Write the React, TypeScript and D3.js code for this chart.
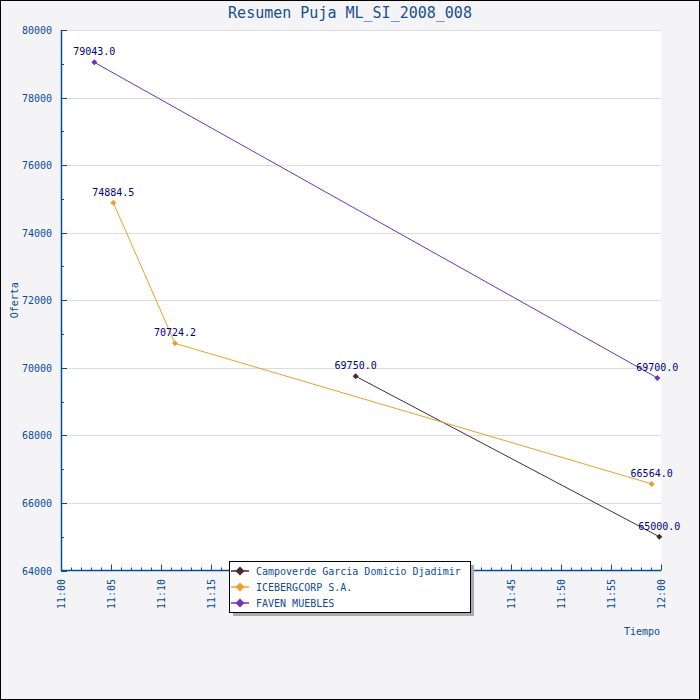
import * as d3 from 'd3';

const title = 'Resumen Puja ML_SI_2008_008';
const seriesNames = ['Campoverde Garcia Domicio Djadimir', 'ICEBERGCORP S.A.', 'FAVEN MUEBLES'];
const seriesColors = ['#4a2a32', '#e8a030', '#7034b4'];

const campoverdeTimes = ['11:29:28', '11:59:50'];
const campoverdeValues = [69750.0, 65000.0];
const icebergTimes = ['11:05:14', '11:11:24', '11:59:04'];
const icebergValues = [74884.5, 70724.2, 66564.0];
const favenTimes = ['11:03:20', '11:59:38'];
const favenValues = [79043.0, 69700.0];

const yTicks = [64000, 66000, 68000, 70000, 72000, 74000, 76000, 78000, 80000];
const timeStart = '11:00:00';
const timeEnd = '12:00:00';

const parse = d3.timeParse('%H:%M:%S');
const W = 700;
const H = 700;
const blue = '#0b4c97';
const font = '"DejaVu Sans Mono", monospace';

type Pt = { t: Date; v: number };
const series = [
  { times: campoverdeTimes, values: campoverdeValues },
  { times: icebergTimes, values: icebergValues },
  { times: favenTimes, values: favenValues },
].map((s, i) => ({
  name: seriesNames[i],
  color: seriesColors[i],
  points: s.times.map((t, j) => ({ t: parse(t) as Date, v: s.values[j] })),
}));

export default function App() {
  const x = d3.scaleTime().domain([parse(timeStart) as Date, parse(timeEnd) as Date]).range([61, 661]);
  const y = d3.scaleLinear().domain([64000, 80000]).range([570.5, 30]);
  const minorX = d3.timeMinute.every(1)!.range(x.domain()[0], new Date(+x.domain()[1] + 1));
  const minorY = d3.range(64000, 80001, 1000);
  const fmt = d3.timeFormat('%H:%M');
  const line = d3
    .line<Pt>()
    .x((d) => x(d.t))
    .y((d) => y(d.v));
  const diamond = (cx: number, cy: number, r: number) =>
    `M${cx},${cy - r}L${cx + r},${cy}L${cx},${cy + r}L${cx - r},${cy}Z`;
  const x0 = x.range()[0];
  const x1 = x.range()[1];
  const yb = y.range()[0];
  const yt = y.range()[1];

  return (
    <svg width={W} height={H} style={{ position: 'absolute', left: 0, top: 0 }} fontFamily={font}>
      <rect x={0.5} y={0.5} width={W - 1} height={H - 1} fill="#f4f4f6" stroke="#000" />
      <rect x={x0} y={yt} width={x1 - x0} height={yb - yt} fill="#fff" />
      <text x={350} y={18} textAnchor="middle" fontSize={15} fill="#1a4f8f">{title}</text>

      {yTicks.filter((t) => t > 64000).map((t) => (
        <line key={'g' + t} x1={x0} x2={x1} y1={Math.round(y(t)) + 0.5} y2={Math.round(y(t)) + 0.5} stroke="#dcdcdc" />
      ))}

      {/* y axis */}
      <line x1={x0 + 0.5} x2={x0 + 0.5} y1={yt} y2={yb + 0.5} stroke={blue} strokeWidth={1.5} />
      {minorY.map((t) => (
        <line key={'yt' + t} x1={x0} x2={x0 + (t % 2000 === 0 ? 6 : 3)} y1={Math.round(y(t)) + 0.5} y2={Math.round(y(t)) + 0.5} stroke={blue} />
      ))}
      {yTicks.map((t) => (
        <text key={'yl' + t} x={52} y={y(t) + 4} textAnchor="end" fontSize={10} fill={blue}>{t}</text>
      ))}
      <text transform={`translate(18,${(yt + yb) / 2}) rotate(-90)`} textAnchor="middle" fontSize={10} fill={blue}>Oferta</text>

      {/* x axis */}
      <line x1={x0} x2={x1} y1={yb} y2={yb} stroke={blue} strokeWidth={1.5} />
      {minorX.map((d) => (
        <line key={'xt' + +d} x1={Math.round(x(d)) + 0.5} x2={Math.round(x(d)) + 0.5} y1={yb} y2={yb - (d.getMinutes() % 5 === 0 ? 6 : 3)} stroke={blue} />
      ))}
      {minorX.filter((d) => d.getMinutes() % 5 === 0).map((d) => (
        <text key={'xl' + +d} transform={`translate(${x(d) + 4},579) rotate(-90)`} textAnchor="end" fontSize={10} fill={blue}>{fmt(d)}</text>
      ))}
      <text x={660} y={635} textAnchor="end" fontSize={10} fill={blue}>Tiempo</text>

      {/* series */}
      {series.map((s) => (
        <g key={s.name}>
          <path d={line(s.points) || ''} fill="none" stroke={s.color} strokeWidth={1} />
          {s.points.map((p, j) => (
            <g key={j}>
              <path d={diamond(x(p.t), y(p.v), 3)} fill={s.color} />
              <text x={x(p.t)} y={y(p.v) - 7} textAnchor="middle" fontSize={10} fill="#000080">{p.v.toFixed(1)}</text>
            </g>
          ))}
        </g>
      ))}

      {/* legend */}
      <rect x={233} y={565} width={241} height={51} fill="#aaa" />
      <rect x={229.5} y={561.5} width={241} height={51} fill="#fff" stroke="#000" />
      {series.map((s, i) => (
        <g key={'lg' + i}>
          <line x1={231} x2={249} y1={571 + i * 16} y2={571 + i * 16} stroke={s.color} strokeWidth={1.5} />
          <path d={diamond(240, 571 + i * 16, 4.5)} fill={s.color} />
          <text x={256} y={575 + i * 16} fontSize={10} fill={blue}>{s.name}</text>
        </g>
      ))}
    </svg>
  );
}
